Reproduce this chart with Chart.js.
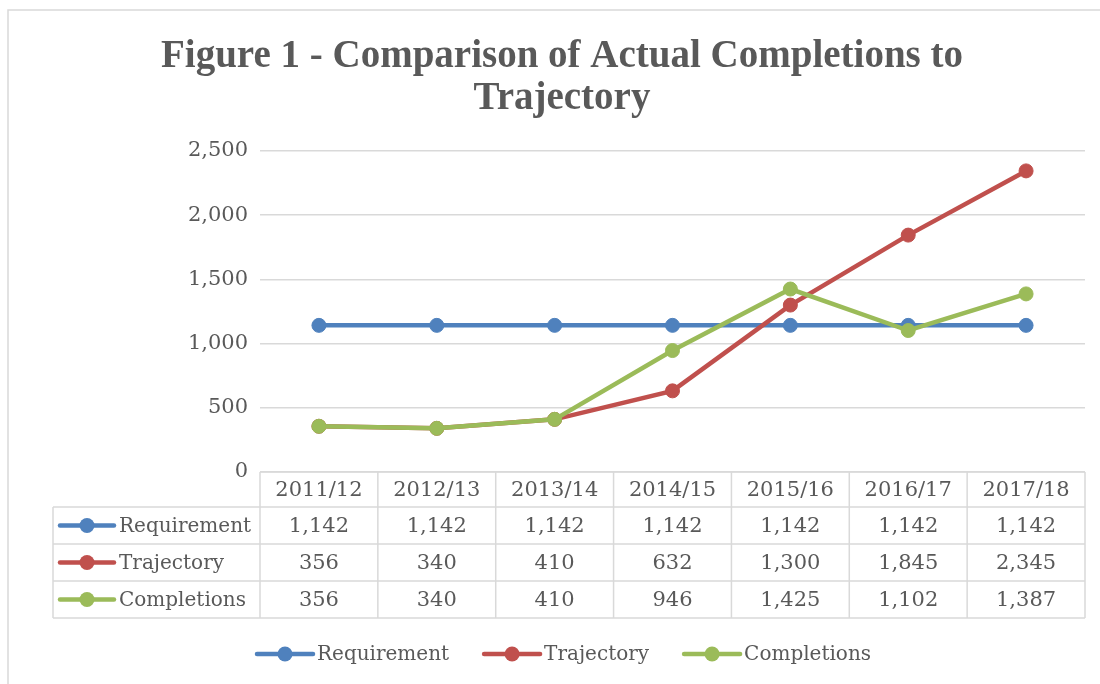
<!DOCTYPE html>
<html lang="en">
<head>
<meta charset="UTF-8">
<title>Figure 1</title>
<script src="https://cdn.jsdelivr.net/npm/chart.js"></script>
<style>
  body { margin: 0; background: #fff; }
  canvas { display: block; }
</style>
</head>
<body>
<canvas id="chart" width="1100" height="684"></canvas>
<script>
// data
const years = ['2011/12', '2012/13', '2013/14', '2014/15', '2015/16', '2016/17', '2017/18'];
const requirement = [1142, 1142, 1142, 1142, 1142, 1142, 1142];
const trajectory = [356, 340, 410, 632, 1300, 1845, 2345];
const completions = [356, 340, 410, 946, 1425, 1102, 1387];
const seriesNames = ['Requirement', 'Trajectory', 'Completions'];
const seriesColors = ['#4f81bd', '#c0504d', '#9bbb59'];
const titleLines = ['Figure 1 - Comparison of Actual Completions to', 'Trajectory'];

const grey = '#595959';
const gridGrey = '#d9d9d9';
const numFont = '21px "DejaVu Serif"';
const nameFont = '20px "DejaVu Serif"';

function fmt(v) { return v.toLocaleString('en-US'); }

// key (line + dot) like the excel legend
function drawKey(ctx, x0, x1, y, color) {
  ctx.save();
  ctx.strokeStyle = color;
  ctx.lineWidth = 4.5;
  ctx.lineCap = 'round';
  ctx.beginPath();
  ctx.moveTo(x0, y);
  ctx.lineTo(x1, y);
  ctx.stroke();
  ctx.fillStyle = color;
  ctx.beginPath();
  ctx.arc((x0 + x1) / 2, y, 7.5, 0, Math.PI * 2);
  ctx.fill();
  ctx.restore();
}

const extras = {
  id: 'extras',
  beforeDraw(chart) {
    const ctx = chart.ctx;
    ctx.save();
    ctx.fillStyle = '#fff';
    ctx.fillRect(0, 0, chart.width, chart.height);
    // outer border
    ctx.strokeStyle = gridGrey;
    ctx.lineWidth = 1.5;
    ctx.beginPath();
    ctx.moveTo(8, chart.height);
    ctx.lineTo(8, 10);
    ctx.lineTo(chart.width, 10);
    ctx.stroke();
    // title
    ctx.fillStyle = grey;
    ctx.font = 'bold 39px "Liberation Serif"';
    ctx.textAlign = 'center';
    ctx.textBaseline = 'alphabetic';
    ctx.fillText(titleLines[0], 562, 67);
    ctx.fillText(titleLines[1], 562, 109);
    ctx.restore();
  },
  afterDraw(chart) {
    const ctx = chart.ctx;
    const area = chart.chartArea;
    const xs = chart.scales.x;
    const n = years.length;
    const colW = (area.right - area.left) / n;
    const top = area.bottom;
    const headBottom = top + 35;
    const rowH = 37;
    const tableBottom = headBottom + rowH * 3;
    const labelLeft = 53;

    ctx.save();
    ctx.strokeStyle = gridGrey;
    ctx.lineWidth = 1.5;
    ctx.beginPath();
    // horizontal lines
    ctx.moveTo(area.left, top);
    ctx.lineTo(area.right, top);
    for (let r = 0; r <= 3; r++) {
      const y = headBottom + r * rowH;
      ctx.moveTo(labelLeft, y);
      ctx.lineTo(area.right, y);
    }
    // vertical lines
    for (let c = 0; c <= n; c++) {
      const x = area.left + c * colW;
      ctx.moveTo(x, top);
      ctx.lineTo(x, tableBottom);
    }
    ctx.moveTo(labelLeft, headBottom);
    ctx.lineTo(labelLeft, tableBottom);
    ctx.stroke();

    ctx.font = numFont;
    ctx.fillStyle = grey;
    ctx.textBaseline = 'middle';
    ctx.textAlign = 'center';
    years.forEach((yr, i) => {
      ctx.fillText(yr, xs.getPixelForValue(i), (top + headBottom) / 2 + 1);
    });
    const rows = [requirement, trajectory, completions];
    rows.forEach((vals, r) => {
      const cy = headBottom + r * rowH + rowH / 2;
      ctx.font = numFont;
      ctx.textAlign = 'center';
      ctx.fillStyle = grey;
      vals.forEach((v, i) => ctx.fillText(fmt(v), xs.getPixelForValue(i), cy + 1));
      drawKey(ctx, 60, 114, cy, seriesColors[r]);
      ctx.font = nameFont;
      ctx.fillStyle = grey;
      ctx.textAlign = 'left';
      ctx.fillText(seriesNames[r], 119, cy + 1);
    });

    // bottom legend
    let x = 257;
    const ly = 654;
    ctx.font = nameFont;
    seriesNames.forEach((name, i) => {
      drawKey(ctx, x, x + 56, ly, seriesColors[i]);
      x += 60;
      ctx.fillStyle = grey;
      ctx.textAlign = 'left';
      ctx.fillText(name, x, ly + 1);
      x += ctx.measureText(name).width + 35;
    });
    ctx.restore();
  }
};

function lineSet(i, data, order) {
  return {
    label: seriesNames[i],
    data: data,
    borderColor: seriesColors[i],
    backgroundColor: seriesColors[i],
    pointBackgroundColor: seriesColors[i],
    pointBorderColor: seriesColors[i],
    borderWidth: 4.5,
    pointRadius: 7,
    pointHoverRadius: 7,
    pointBorderWidth: 1,
    tension: 0,
    order: order
  };
}

new Chart(document.getElementById('chart'), {
  type: 'line',
  data: {
    labels: years,
    datasets: [
      lineSet(0, requirement, 2),
      lineSet(1, trajectory, 1),
      lineSet(2, completions, 0)
    ]
  },
  options: {
    responsive: false,
    animation: false,
    devicePixelRatio: 1,
    layout: { padding: { top: 151, bottom: 212, left: 0, right: 15 } },
    plugins: {
      legend: { display: false },
      title: { display: false },
      tooltip: { enabled: false }
    },
    scales: {
      x: {
        display: false,
        offset: true
      },
      y: {
        min: 0,
        max: 2500,
        afterFit(s) { s.width = 260; },
        border: { display: false },
        grid: { color: gridGrey, lineWidth: 1.5, drawTicks: false },
        ticks: {
          stepSize: 500,
          padding: 12,
          color: grey,
          font: { family: 'DejaVu Serif', size: 21 },
          callback: v => fmt(v)
        }
      }
    }
  },
  plugins: [extras]
});
</script>
</body>
</html>
